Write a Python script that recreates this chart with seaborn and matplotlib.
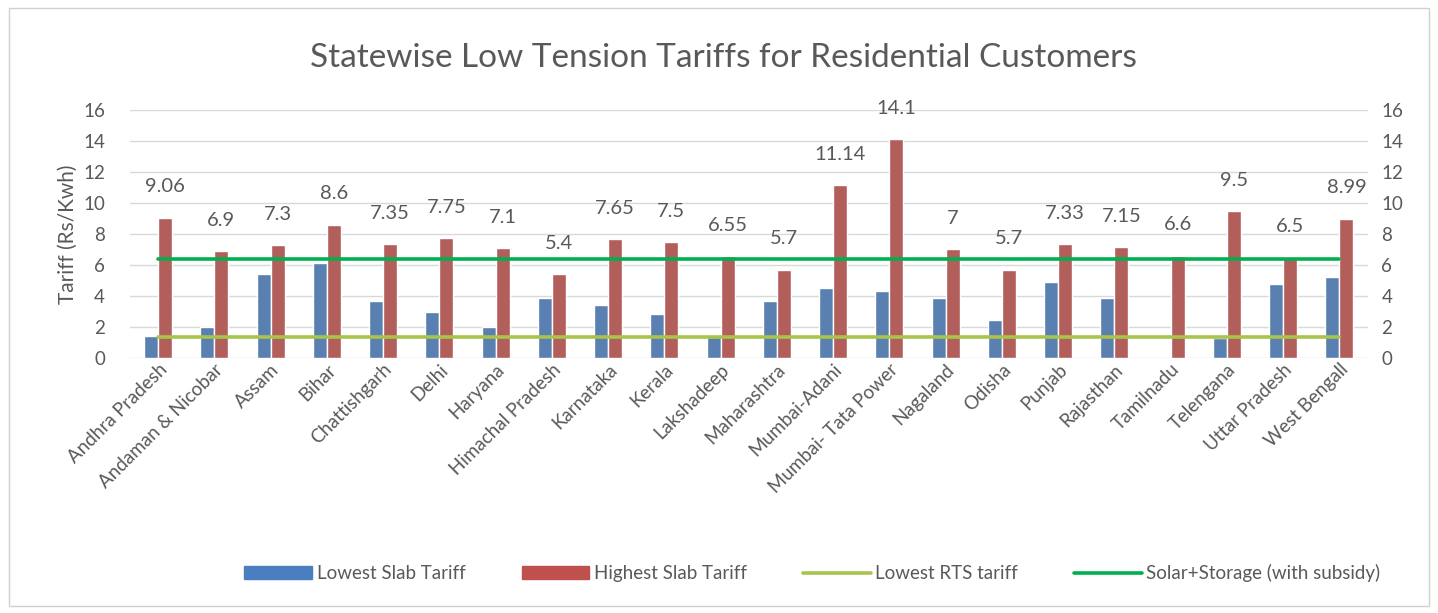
import numpy as np
import pandas as pd
import seaborn as sns
import matplotlib.pyplot as plt
from matplotlib.patches import Patch, Rectangle
from matplotlib.lines import Line2D

# data
states = ["Andhra Pradesh", "Andaman & Nicobar", "Assam", "Bihar", "Chattishgarh",
          "Delhi", "Haryana", "Himachal Pradesh", "Karnataka", "Kerala", "Lakshadeep",
          "Maharashtra", "Mumbai-Adani", "Mumbai- Tata Power", "Nagaland", "Odisha",
          "Punjab", "Rajasthan", "Tamilnadu", "Telengana", "Uttar Pradesh", "West Bengall"]
lowest_slab = [1.4, 2.0, 5.45, 6.1, 3.7, 2.95, 2.0, 3.85, 3.4, 2.85, 1.35, 3.7,
               4.5, 4.3, 3.9, 2.45, 4.9, 3.85, 0, 1.3, 4.8, 5.25]
highest_slab = [9.06, 6.9, 7.3, 8.6, 7.35, 7.75, 7.1, 5.4, 7.65, 7.5, 6.55, 5.7,
                11.14, 14.1, 7, 5.7, 7.33, 7.15, 6.6, 9.5, 6.5, 8.99]
lowest_rts = 1.34
solar_storage = 6.4
y_ticks = [0, 2, 4, 6, 8, 10, 12, 14, 16]

series_names = ["Lowest Slab Tariff", "Highest Slab Tariff"]
df = pd.DataFrame({
    "state": states * 2,
    "series": [series_names[0]] * len(states) + [series_names[1]] * len(states),
    "tariff": lowest_slab + highest_slab,
})

sns.set_theme(style="white")
plt.rcParams["font.family"] = ["Lato", "DejaVu Sans"]

blue, red = "#4a7ec0", "#c0504d"
yellow_green, green = "#a9c44a", "#00b050"
text_gray = "#595959"

fig = plt.figure(figsize=(14.38, 6.13), dpi=100)
ax = fig.add_axes([0.0904, 0.416, 0.8606, 0.4046])

sns.barplot(data=df, x="state", y="tariff", hue="series", palette=[blue, red],
            width=0.5, gap=0, ax=ax, legend=False, zorder=2)

xs = np.arange(len(states))
sns.lineplot(x=xs, y=[lowest_rts] * len(states), color=yellow_green, lw=2.6, ax=ax, zorder=3)
sns.lineplot(x=xs, y=[solar_storage] * len(states), color=green, lw=2.6, ax=ax, zorder=3)

ax.bar_label(ax.containers[1], labels=[f"{v:g}" for v in highest_slab], padding=16,
             fontsize=14.5, color=text_gray)

ax.set_ylim(0, 16)
ax.set_xlim(-0.5, len(states) - 0.5)
ax.set_yticks(y_ticks)
ax.yaxis.grid(True, color="#d9d9d9", lw=1)
ax.set_axisbelow(True)
for s in ax.spines.values():
    s.set_visible(False)
ax.tick_params(axis="y", labelsize=13.5, labelcolor=text_gray, length=0, pad=18)
ax.tick_params(axis="x", length=0, pad=2)
ax.set_xticks(xs)
ax.set_xticklabels(states, rotation=45, ha="right", rotation_mode="anchor",
                   fontsize=13.5, color=text_gray)
ax.set_xlabel("")
ax.set_ylabel("Tariff (Rs/Kwh)", fontsize=15, color=text_gray, labelpad=4)

ax2 = ax.twinx()
ax2.set_ylim(0, 16)
ax2.set_yticks(y_ticks)
ax2.tick_params(axis="y", labelsize=13.5, labelcolor=text_gray, length=0, pad=10)
for s in ax2.spines.values():
    s.set_visible(False)

fig.text(0.503, 0.905, "Statewise Low Tension Tariffs for Residential Customers",
         ha="center", va="center", fontsize=24, color=text_gray)

handles = [Patch(color=blue), Patch(color=red),
           Line2D([], [], color=yellow_green, lw=2.6), Line2D([], [], color=green, lw=2.6)]
labels = series_names + ["Lowest RTS tariff", "Solar+Storage (with subsidy)"]
fig.legend(handles, labels, loc="center", bbox_to_anchor=(0.565, 0.065), ncol=4,
           frameon=False, fontsize=13.5, labelcolor=text_gray, columnspacing=3.0,
           handlelength=3.6, handletextpad=0.25)

fig.patches.append(Rectangle((0.006, 0.012), 0.988, 0.975, transform=fig.transFigure,
                             fill=False, edgecolor="#d0d0d0", lw=1))

fig.savefig("out.png", dpi=100)
